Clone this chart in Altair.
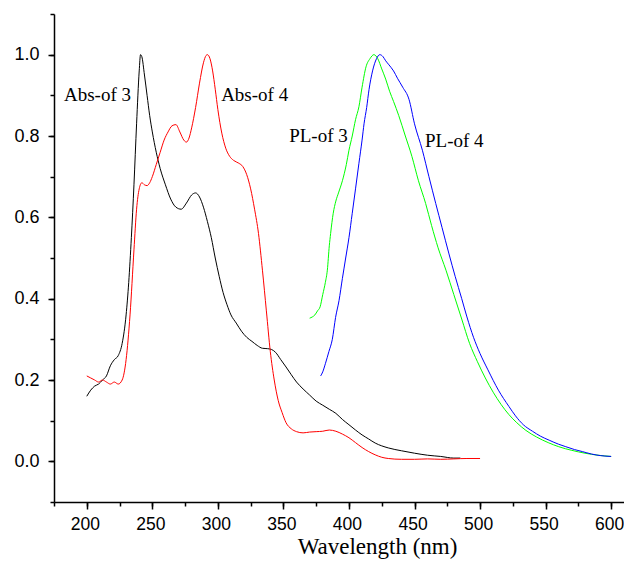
import altair as alt
import pandas as pd

# Abs-of 3 (black)
abs3_nm = [200, 203, 206, 209, 212, 215, 218, 221, 224, 227, 230, 232, 234, 236, 238, 240, 241, 242, 244, 246,
           248, 250, 253, 256, 260, 264, 268, 272, 276, 280, 283, 286, 289, 292, 295, 298, 301, 304, 307, 310,
           314, 318, 322, 326, 330, 334, 338, 341, 344, 348, 352, 356, 360, 365, 370, 375, 380, 385, 390, 395,
           400, 405, 410, 415, 420, 430, 440, 450, 460, 470, 480, 485]
abs3_val = [0.16, 0.175, 0.185, 0.19, 0.2, 0.21, 0.235, 0.25, 0.26, 0.29, 0.36, 0.44, 0.55, 0.68, 0.83, 0.96, 1.0, 0.995, 0.95, 0.9,
            0.85, 0.81, 0.76, 0.72, 0.68, 0.645, 0.625, 0.62, 0.635, 0.655, 0.66, 0.65, 0.625, 0.59, 0.55, 0.5, 0.455, 0.415, 0.385, 0.36,
            0.34, 0.32, 0.305, 0.295, 0.285, 0.278, 0.277, 0.275, 0.268, 0.25, 0.232, 0.213, 0.195, 0.178, 0.163, 0.148, 0.138, 0.128, 0.118, 0.103,
            0.09, 0.077, 0.065, 0.055, 0.045, 0.033, 0.026, 0.02, 0.015, 0.012, 0.008, 0.008]

# Abs-of 4 (red)
abs4_nm = [200, 203, 206, 209, 212, 215, 218, 221, 224, 227, 230, 233, 236, 238, 240, 242, 244, 246, 248, 250,
           253, 256, 259, 262, 265, 268, 271, 274, 276, 278, 280, 283, 286, 289, 291, 292, 294, 296, 298, 300,
           303, 306, 309, 312, 316, 319, 322, 325, 328, 331, 334, 337, 340, 343, 346, 349, 352, 356, 360, 365,
           370, 375, 380, 385, 390, 395, 400, 405, 410, 415, 420, 425, 430, 440, 450, 460, 470, 480, 490, 500]
abs4_val = [0.21, 0.205, 0.2, 0.195, 0.2, 0.195, 0.19, 0.195, 0.19, 0.2, 0.25, 0.36, 0.52, 0.62, 0.67, 0.685, 0.68, 0.678, 0.685, 0.7,
            0.73, 0.76, 0.79, 0.81, 0.825, 0.828, 0.81, 0.79, 0.785, 0.795, 0.82, 0.87, 0.93, 0.98, 0.998, 1.0, 0.99, 0.96, 0.915, 0.865,
            0.807, 0.77, 0.75, 0.74, 0.733, 0.725, 0.705, 0.67, 0.62, 0.56, 0.47, 0.37, 0.27, 0.2, 0.15, 0.12, 0.095, 0.08, 0.073, 0.07,
            0.072, 0.073, 0.074, 0.077, 0.074, 0.067, 0.058, 0.046, 0.034, 0.024, 0.016, 0.01, 0.007, 0.005, 0.005, 0.006, 0.005, 0.006, 0.007, 0.007]

# PL-of 3 (green)
pl3_nm = [370, 372, 374, 376, 378, 380, 382, 383.5, 385, 386, 388, 390, 392, 395, 398, 400, 402.5, 405, 407.6, 410,
          413, 416, 419, 422, 425, 428, 431, 434, 438, 443, 448, 453, 458.5, 463, 468, 474, 480, 486, 492, 498,
          504, 510, 516, 522, 528, 535, 543, 552, 560, 570, 580, 590, 600]
pl3_val = [0.352, 0.355, 0.36, 0.37, 0.38, 0.41, 0.44, 0.47, 0.53, 0.56, 0.61, 0.64, 0.66, 0.69, 0.73, 0.765, 0.8, 0.84, 0.872, 0.92,
           0.97, 0.99, 1.0, 0.99, 0.965, 0.94, 0.91, 0.885, 0.85, 0.8, 0.75, 0.69, 0.634, 0.58, 0.525, 0.47, 0.41, 0.35, 0.29, 0.245,
           0.205, 0.17, 0.14, 0.115, 0.095, 0.076, 0.06, 0.046, 0.036, 0.027, 0.02, 0.015, 0.012]

# PL-of 4 (blue)
pl4_nm = [378.4, 380, 382, 384.7, 387.3, 389.8, 392.4, 395, 397.5, 400, 402.5, 405, 407.6, 410, 411.5, 413.5, 415.3, 418, 421, 423.5,
          426, 428, 430.5, 434, 437, 441, 445.8, 450, 456, 461, 466.2, 471, 476.3, 481, 486, 490, 495, 500, 506, 514,
          522, 527, 533, 540, 546, 552.7, 560, 565.4, 572, 578, 585, 592, 600]
pl4_val = [0.21, 0.22, 0.24, 0.27, 0.30, 0.354, 0.395, 0.45, 0.5, 0.55, 0.61, 0.67, 0.733, 0.79, 0.83, 0.87, 0.914, 0.96, 0.99, 1.0,
           0.995, 0.985, 0.975, 0.96, 0.942, 0.92, 0.89, 0.83, 0.765, 0.7, 0.634, 0.575, 0.51, 0.455, 0.4, 0.355, 0.305, 0.265, 0.225, 0.175,
           0.135, 0.112, 0.09, 0.074, 0.062, 0.052, 0.042, 0.036, 0.029, 0.024, 0.018, 0.014, 0.012]

series_names = ["Abs-of 3", "Abs-of 4", "PL-of 3", "PL-of 4"]
series_colors = ["#000000", "#ff0000", "#00ff00", "#0000ff"]

label_text = ["Abs-of 3", "Abs-of 4", "PL-of 3", "PL-of 4"]
label_nm = [182.6, 302.5, 354.4, 458.0]
label_val = [0.90, 0.90, 0.80, 0.787]

x_major = [200, 250, 300, 350, 400, 450, 500, 550, 600]
x_minor = [175, 200, 225, 250, 275, 300, 325, 350, 375, 400, 425, 450, 475, 500, 525, 550, 575, 600]
y_major = [0.0, 0.2, 0.4, 0.6, 0.8, 1.0]
y_minor = [-0.1, 0.0, 0.1, 0.2, 0.3, 0.4, 0.5, 0.6, 0.7, 0.8, 0.9, 1.0, 1.1]

rows = []
for name, xs, ys in zip(series_names, [abs3_nm, abs4_nm, pl3_nm, pl4_nm], [abs3_val, abs4_val, pl3_val, pl4_val]):
    for a, b in zip(xs, ys):
        rows.append({"nm": a, "val": b, "series": name})
df = pd.DataFrame(rows)
labels_df = pd.DataFrame({"nm": label_nm, "val": label_val, "text": label_text})

x_scale = alt.Scale(domain=[175, 609.8], nice=False, zero=False)
y_scale = alt.Scale(domain=[-0.1, 1.1], nice=False, zero=False)

SERIF = "Liberation Serif, Times New Roman, serif"

lines = alt.Chart(df).mark_line(strokeWidth=1, interpolate="monotone").encode(
    x=alt.X("nm:Q", scale=x_scale, axis=alt.Axis(
        orient="bottom", values=x_major, format="d", grid=False,
        tickSize=7, tickWidth=1.5, tickColor="black",
        domainWidth=1.5, domainColor="black",
        labelFont="Liberation Sans", labelFontSize=17.5, labelColor="black", labelPadding=6,
        labelOffset=-2,
        title="Wavelength (nm)", titleFont=SERIF, titleFontSize=23,
        titleFontWeight="normal", titleColor="black",
        titleX=323, titleY=51, titleBaseline="alphabetic", titleAlign="center")),
    y=alt.Y("val:Q", scale=y_scale, axis=alt.Axis(
        orient="left", values=y_major, format=".1f", grid=False,
        tickSize=6, tickWidth=1.5, tickColor="black",
        domainWidth=1.5, domainColor="black",
        labelFont="Liberation Sans", labelFontSize=18, labelColor="black", labelPadding=9,
        title=None)),
    color=alt.Color("series:N", scale=alt.Scale(domain=series_names, range=series_colors), legend=None),
)

texts = alt.Chart(labels_df).mark_text(
    align="left", baseline="middle", font=SERIF, fontSize=19, color="black"
).encode(
    x=alt.X("nm:Q", scale=x_scale, axis=alt.Axis(
        orient="bottom", values=x_minor, labels=False, domain=False, grid=False,
        tickSize=4, tickWidth=1.5, tickColor="black", title=None)),
    y=alt.Y("val:Q", scale=y_scale, axis=alt.Axis(
        orient="left", values=y_minor, labels=False, domain=False, grid=False,
        tickSize=4, tickWidth=1.5, tickColor="black", title=None)),
    text="text:N",
)

chart = alt.layer(lines, texts).resolve_axis(
    x="independent", y="independent"
).properties(
    width=570, height=488,
    autosize=alt.AutoSizeParams(type="none"),
    padding={"left": 46, "top": 6, "right": 0, "bottom": 57},
).configure_view(stroke=None)

chart.save("out.html", embed_options={"renderer": "svg", "actions": False})
